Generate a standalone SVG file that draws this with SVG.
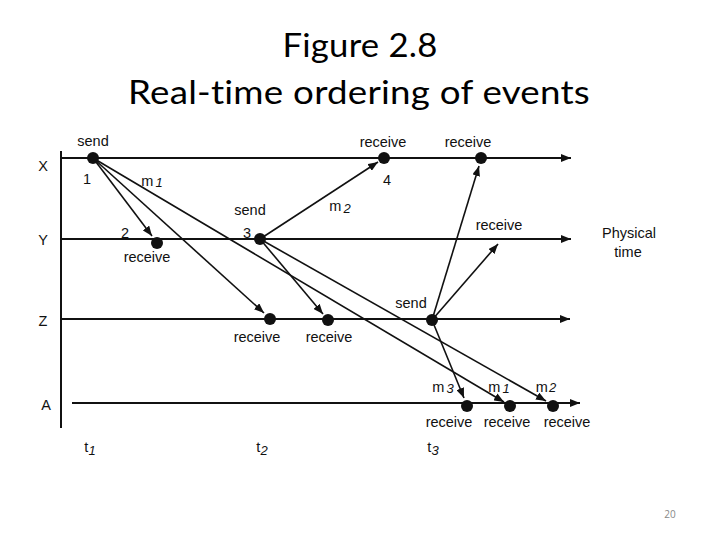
<svg xmlns="http://www.w3.org/2000/svg" width="720" height="540" viewBox="0 0 720 540">
<defs>
<style>
.t{font-family:"Liberation Sans",Arial,sans-serif;font-size:14.5px;fill:#111;text-anchor:middle}
.s{font-style:italic;font-size:13px}
.ttl{font-family:Lato,"Open Sans","Liberation Sans",sans-serif;font-size:32px;fill:#000;text-anchor:middle;letter-spacing:0.2px;font-variant-ligatures:none;font-feature-settings:"liga" 0,"dlig" 0}
.ax{stroke:#111;stroke-width:2;fill:none}
.ar{stroke:#111;stroke-width:1.6;fill:none;marker-end:url(#ah)}
.tl{stroke:#111;stroke-width:2;fill:none;marker-end:url(#ta)}
.d{fill:#111}
</style>
<marker id="ah" markerUnits="userSpaceOnUse" viewBox="0 0 10 8" refX="10" refY="4" markerWidth="10" markerHeight="8" orient="auto"><path d="M0,0L10,4L0,8z" fill="#111"/></marker>
<marker id="ta" markerUnits="userSpaceOnUse" viewBox="0 0 10 8" refX="10" refY="4" markerWidth="10" markerHeight="8" orient="auto"><path d="M0,0L10,4L0,8z" fill="#111"/></marker>
</defs>
<rect width="720" height="540" fill="#fff"/>
<text class="ttl" x="360" y="57" textLength="155" lengthAdjust="spacingAndGlyphs">Figure 2.8</text>
<text class="ttl" x="359" y="104" textLength="462" lengthAdjust="spacingAndGlyphs">Real-time ordering of events</text>

<g id="axes">
<line class="ax" x1="61" y1="151" x2="61" y2="428"/>
<line class="tl" x1="61" y1="158" x2="571" y2="158"/>
<line class="tl" x1="61" y1="239" x2="571" y2="239"/>
<line class="tl" x1="61" y1="319" x2="570" y2="319"/>
<line class="tl" x1="72" y1="403" x2="580" y2="403"/>
</g>
<g id="labels">
<text class="t" x="43" y="171">X</text>
<text class="t" x="43" y="245">Y</text>
<text class="t" x="43" y="326">Z</text>
<text class="t" x="46" y="410">A</text>
<text class="t" x="629" y="238">Physical</text>
<text class="t" x="628" y="257">time</text>
<text class="t" x="90" y="452">t<tspan class="s" dy="3">1</tspan></text>
<text class="t" x="262" y="452">t<tspan class="s" dy="3">2</tspan></text>
<text class="t" x="433" y="452">t<tspan class="s" dy="3">3</tspan></text>
</g>

<g id="connectors">
<line class="ar" x1="93" y1="158" x2="152" y2="236"/>
<line class="ar" x1="93" y1="158" x2="264" y2="313"/>
<line class="ar" x1="93" y1="158" x2="504" y2="402"/>
<line class="ar" x1="260" y1="239" x2="378" y2="162"/>
<line class="ar" x1="260" y1="239" x2="323" y2="314"/>
<line class="ar" x1="260" y1="239" x2="546" y2="401"/>
<line class="ar" x1="432" y1="320" x2="479" y2="166"/>
<line class="ar" x1="432" y1="320" x2="498" y2="244"/>
<line class="ar" x1="432" y1="320" x2="464" y2="398"/>
</g>

<g id="x-send"><circle class="d" cx="93" cy="158" r="6"/><text class="t" x="93" y="146">send</text><text class="t" x="87" y="184">1</text><text class="t" x="152" y="186">m<tspan class="s" dx="2" dy="1">1</tspan></text></g>
<g id="y-receive"><circle class="d" cx="157" cy="243" r="6"/><text class="t" x="125" y="238">2</text><text class="t" x="147" y="262">receive</text></g>
<g id="y-send"><circle class="d" cx="260" cy="239" r="6"/><text class="t" x="250" y="215">send</text><text class="t" x="247" y="238">3</text><text class="t" x="340" y="211">m<tspan class="s" dx="2" dy="2">2</tspan></text></g>
<g id="x-receive-4"><circle class="d" cx="384" cy="158" r="6"/><text class="t" x="383" y="147">receive</text><text class="t" x="387" y="185">4</text></g>
<g id="x-receive-2"><circle class="d" cx="481" cy="158" r="6"/><text class="t" x="468" y="147">receive</text></g>
<g id="y-receive-2"><text class="t" x="499" y="230">receive</text></g>
<g id="z-receive-1"><circle class="d" cx="270" cy="319" r="6"/><text class="t" x="257" y="342">receive</text></g>
<g id="z-receive-2"><circle class="d" cx="328" cy="320" r="6"/><text class="t" x="329" y="342">receive</text></g>
<g id="z-send"><circle class="d" cx="432" cy="320" r="6"/><text class="t" x="411" y="308">send</text></g>
<g id="a-receive-m3"><circle class="d" cx="467" cy="406" r="6"/><text class="t" x="443" y="392">m<tspan class="s" dx="2" dy="1">3</tspan></text><text class="t" x="449" y="427">receive</text></g>
<g id="a-receive-m1"><circle class="d" cx="510" cy="406" r="6"/><text class="t" x="499" y="392">m<tspan class="s" dx="2" dy="1">1</tspan></text><text class="t" x="507" y="427">receive</text></g>
<g id="a-receive-m2"><circle class="d" cx="553" cy="406" r="6"/><text class="t" x="546" y="392">m<tspan class="s" dx="1" dy="0">2</tspan></text><text class="t" x="567" y="427">receive</text></g>

<text x="670" y="518" font-family="'Open Sans','Liberation Sans',sans-serif" font-size="10" fill="#888" text-anchor="middle">20</text>
</svg>
